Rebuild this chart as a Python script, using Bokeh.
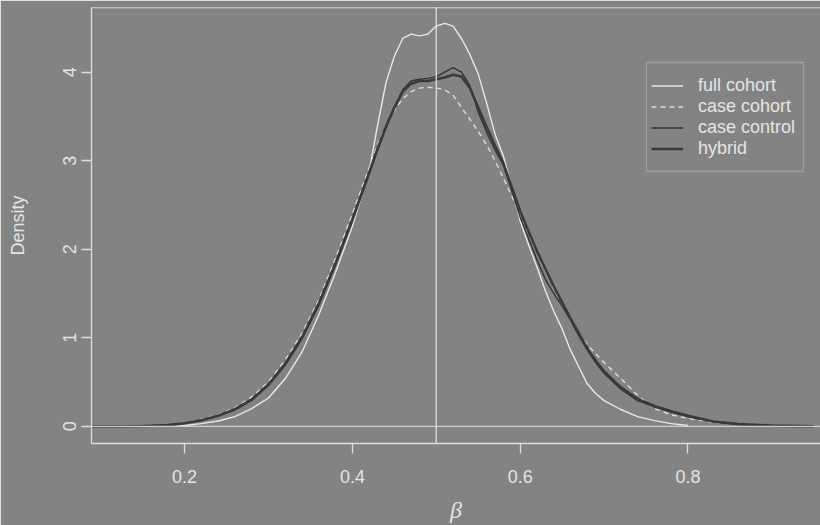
import re
from bokeh.plotting import figure
from bokeh.models import Span, BoxAnnotation, FixedTicker, Legend, LegendItem, Range1d
from bokeh.embed import file_html
from bokeh.resources import INLINE

# ---------------- data ----------------
X_TICKS = [0.2, 0.4, 0.6, 0.8]
Y_TICKS = [0, 1, 2, 3, 4]
TRUE_BETA = 0.5

X_FULL = [0.19, 0.20, 0.22, 0.24, 0.26, 0.28, 0.30, 0.32, 0.34, 0.36, 0.38, 0.40,
          0.42, 0.43, 0.44, 0.45, 0.46, 0.47, 0.48, 0.49, 0.50, 0.51, 0.52, 0.53,
          0.54, 0.55, 0.56, 0.57, 0.58, 0.59, 0.60, 0.61, 0.62, 0.63, 0.64, 0.65,
          0.66, 0.67, 0.68, 0.69, 0.70, 0.72, 0.74, 0.76, 0.78, 0.80]
FULL_COHORT = [0.0, 0.01, 0.03, 0.06, 0.11, 0.20, 0.32, 0.54, 0.84, 1.26, 1.74, 2.26,
               2.88, 3.40, 3.88, 4.18, 4.38, 4.43, 4.41, 4.43, 4.52, 4.55, 4.52, 4.38,
               4.20, 3.98, 3.65, 3.30, 3.05, 2.70, 2.32, 2.05, 1.80, 1.53, 1.30, 1.10,
               0.86, 0.67, 0.48, 0.37, 0.29, 0.19, 0.11, 0.065, 0.03, 0.01]

X_ALL = [0.09, 0.12, 0.15, 0.18, 0.20, 0.22, 0.24, 0.26, 0.28, 0.30, 0.32, 0.34,
         0.36, 0.38, 0.40, 0.42, 0.43, 0.44, 0.45, 0.46, 0.47, 0.48, 0.49, 0.50,
         0.51, 0.52, 0.53, 0.54, 0.55, 0.56, 0.57, 0.58, 0.59, 0.60, 0.61, 0.62,
         0.63, 0.64, 0.65, 0.66, 0.67, 0.68, 0.69, 0.70, 0.72, 0.74, 0.76, 0.78,
         0.80, 0.83, 0.86, 0.90, 0.95]
CASE_COHORT = [0.0, 0.001, 0.005, 0.016, 0.04, 0.08, 0.13, 0.21, 0.33, 0.50, 0.75, 1.05,
               1.43, 1.90, 2.40, 2.92, 3.18, 3.40, 3.57, 3.70, 3.78, 3.82, 3.83, 3.82,
               3.80, 3.74, 3.60, 3.47, 3.33, 3.18, 3.00, 2.80, 2.60, 2.38, 2.18, 1.97,
               1.76, 1.56, 1.37, 1.20, 1.05, 0.92, 0.82, 0.72, 0.54, 0.35, 0.20, 0.13,
               0.09, 0.045, 0.02, 0.005, 0.0]
CASE_CONTROL = [0.0, 0.0, 0.003, 0.012, 0.035, 0.07, 0.12, 0.20, 0.31, 0.48, 0.72, 1.02,
                1.40, 1.85, 2.35, 2.88, 3.15, 3.40, 3.60, 3.80, 3.90, 3.92, 3.93, 3.95,
                4.00, 4.05, 4.00, 3.85, 3.55, 3.32, 3.12, 2.95, 2.66, 2.36, 2.12, 1.88,
                1.66, 1.50, 1.36, 1.20, 1.02, 0.86, 0.72, 0.60, 0.42, 0.29, 0.22, 0.16,
                0.11, 0.05, 0.02, 0.005, 0.0]
HYBRID = [0.0, 0.001, 0.004, 0.015, 0.035, 0.068, 0.12, 0.19, 0.30, 0.47, 0.70, 1.00,
          1.38, 1.84, 2.33, 2.86, 3.13, 3.38, 3.60, 3.78, 3.87, 3.90, 3.90, 3.92,
          3.94, 3.97, 3.95, 3.82, 3.60, 3.38, 3.17, 2.97, 2.70, 2.43, 2.20, 1.98,
          1.78, 1.58, 1.40, 1.22, 1.05, 0.88, 0.74, 0.62, 0.44, 0.31, 0.23, 0.17,
          0.12, 0.055, 0.025, 0.008, 0.001]

SERIES_NAMES = ["full cohort", "case cohort", "case control", "hybrid"]
X_TITLE = "β"
Y_TITLE = "Density"

# ---------------- style ----------------
BG = "#838383"
FG = "#dedede"
TXT = "#e4e4e4"
FONT = "Liberation Sans"
X_MIN, X_MAX = 0.089, 0.958
Y_MIN, Y_MAX = -0.194, 4.73

p = figure(width=820, height=525, output_backend="svg", toolbar_location=None,
           x_range=Range1d(X_MIN, X_MAX), y_range=Range1d(Y_MIN, Y_MAX),
           min_border_left=91, min_border_right=0, min_border_top=7,
           min_border_bottom=82)
p.background_fill_color = BG
p.border_fill_color = BG
p.outline_line_color = None
p.xgrid.visible = False
p.ygrid.visible = False

for ax in (p.xaxis[0], p.yaxis[0]):
    ax.axis_line_color = FG
    ax.axis_line_width = 1.3
    ax.major_tick_line_color = FG
    ax.major_tick_line_width = 1.3
    ax.major_tick_out = 10
    ax.major_tick_in = 0
    ax.minor_tick_line_color = None
    ax.major_label_text_color = TXT
    ax.major_label_text_font = FONT
    ax.major_label_text_font_size = "18px"
    ax.axis_label_text_color = TXT
p.xaxis.ticker = FixedTicker(ticks=X_TICKS)
p.yaxis.ticker = FixedTicker(ticks=Y_TICKS)
p.xaxis.major_label_standoff = 16
p.yaxis.major_label_standoff = 5
p.yaxis.major_label_orientation = "vertical"

p.xaxis.axis_label = X_TITLE
p.xaxis.axis_label_text_font = "Liberation Serif"
p.xaxis.axis_label_text_font_style = "italic"
p.xaxis.axis_label_text_font_size = "24px"
p.xaxis.axis_label_standoff = 11

p.yaxis.axis_label = Y_TITLE
p.yaxis.axis_label_text_font = FONT
p.yaxis.axis_label_text_font_style = "normal"
p.yaxis.axis_label_text_font_size = "18px"
p.yaxis.axis_label_standoff = 33

# box top, zero line and true-value line
p.add_layout(Span(location=Y_MAX, dimension="width", line_color=FG, line_width=1.3))
p.add_layout(Span(location=0, dimension="width", line_color="#cfcfcf", line_width=1.2))
p.add_layout(Span(location=TRUE_BETA, dimension="height", line_color=FG, line_width=1.3))

r_full = p.line(X_FULL, FULL_COHORT, line_color="#e8e8e8", line_width=1.4)
r_cc = p.line(X_ALL, CASE_COHORT, line_color="#dcdcdc", line_width=1.4, line_dash="5 4")
r_ctrl = p.line(X_ALL, CASE_CONTROL, line_color="#343434", line_width=1.4)
r_hyb = p.line(X_ALL, HYBRID, line_color="#3a3a3a", line_width=2.6)

# legend frame (screen px from the frame's lower-left corner)
p.add_layout(BoxAnnotation(left=555, right=712, bottom=272, top=381,
                           left_units="screen", right_units="screen",
                           bottom_units="screen", top_units="screen",
                           fill_alpha=0, line_color=FG, line_width=1.3))

legend = Legend(items=[LegendItem(label=n, renderers=[r]) for n, r in
                       zip(SERIES_NAMES, [r_full, r_cc, r_ctrl, r_hyb])],
                location=(560, 284))
legend.border_line_color = None
legend.background_fill_alpha = 0
legend.label_text_color = TXT
legend.label_text_font = FONT
legend.label_text_font_size = "18px"
legend.glyph_width = 32
legend.glyph_height = 21
legend.label_height = 21
legend.label_standoff = 15
legend.padding = 0
legend.spacing = 0
legend.margin = 0
p.add_layout(legend, "center")

html = file_html(p, INLINE)
html = re.sub(r"<body([^>]*)>", r'<body\1 style="background-color:%s;">' % BG, html, count=1)
open("out.html", "w").write(html)
